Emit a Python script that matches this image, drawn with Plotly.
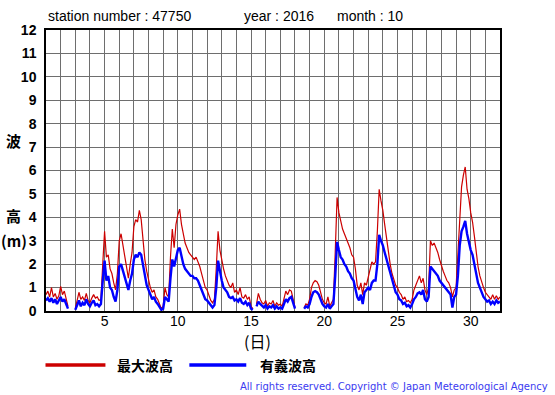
import plotly.graph_objects as go

# 3-hourly samples, starting Oct 1 00:00 (day 1.0)
SAMPLE_HOURS = 3
START_DAY = 1

hmax = [
    # day 1
    0.70, 0.85, 0.60, 1.00, 0.60, 0.75, 0.50, 0.65,
    # day 2
    1.05, 0.70, 0.85, 0.50, 0.20, None, 0.30, None,
    # day 3
    0.10, 0.45, 0.80, 0.50, 0.60, 0.45, 0.75, 0.45,
    # day 4
    0.35, 0.55, 0.70, 0.55, 0.60, 0.45, 0.50, 2.00,
    # day 5
    3.40, 2.30, 2.40, 1.80, 1.60, 1.20, 0.90, 1.60,
    # day 6
    3.00, 3.30, 2.80, 2.20, 1.80, 1.40, 2.00, 2.50,
    # day 7
    3.60, 3.90, 3.80, 4.30, 3.90, 3.00, 2.20, 1.70,
    # day 8
    1.30, 1.00, 0.80, 0.90, 0.60, 0.50, 0.30, 0.10,
    # day 9
    0.20, 1.00, 0.70, 0.60, 2.30, 3.50, 2.70, 3.70,
    # day 10
    4.10, 4.35, 3.70, 3.20, 2.90, 2.70, 2.50, 2.40,
    # day 11
    2.30, 2.20, 2.30, 2.10, 1.90, 1.60, 1.30, 1.00,
    # day 12
    0.90, 0.70, 0.45, 0.35, 0.50, 1.80, 3.40, 2.60,
    # day 13
    2.10, 1.80, 1.50, 1.30, 1.10, 1.00, 1.20, 0.80,
    # day 14
    0.90, 0.70, 1.00, 0.60, 0.55, 0.70, 0.50, 0.60,
    # day 15
    0.20, 0.10, None, 0.30, 0.75, 0.50, 0.35, 0.30,
    # day 16
    0.45, 0.20, 0.35, 0.30, 0.45, 0.20, 0.35, 0.25,
    # day 17
    0.30, 0.20, 0.50, 0.85, 0.70, 0.90, 0.85, 0.50,
    # day 18
    0.15, None, 0.35, None, None, 0.15, 0.30, 0.25,
    # day 19
    0.50, 1.00, 1.20, 1.30, 1.25, 1.10, 0.80, 0.50,
    # day 20
    0.35, 0.30, 0.60, 0.20, 0.35, 0.50, 2.50, 4.85,
    # day 21
    4.20, 3.80, 3.50, 3.30, 3.10, 2.90, 2.70, 2.40,
    # day 22
    2.30, 1.80, 1.10, 0.90, 1.20, 0.70, 1.20, 1.10,
    # day 23
    1.40, 1.80, 2.10, 2.00, 2.10, 3.40, 5.20, 4.70,
    # day 24
    4.30, 3.70, 3.10, 2.60, 2.00, 1.60, 1.30, 1.10,
    # day 25
    1.00, 0.80, 0.70, 0.50, 0.60, 0.40, 0.45, 0.35,
    # day 26
    0.50, 0.90, 1.10, 1.30, 1.50, 1.20, 1.40, 0.90,
    # day 27
    0.70, 1.00, 3.00, 2.80, 2.90, 2.70, 2.50, 2.20,
    # day 28
    1.90, 1.70, 1.50, 1.30, 1.20, 1.00, 0.60, 0.90,
    # day 29
    1.00, 2.50, 4.30, 5.30, 5.80, 6.15, 5.20, 4.80,
    # day 30
    4.20, 3.80, 3.20, 2.50, 1.90, 1.50, 1.20, 1.00,
    # day 31
    0.80, 0.70, 0.60, 0.50, 0.70, 0.50, 0.65, 0.50,
    0.60,
]

hsig = [
    # day 1
    0.45, 0.55, 0.40, 0.55, 0.35, 0.50, 0.30, 0.45,
    # day 2
    0.60, 0.40, 0.50, 0.30, 0.10, None, 0.20, None,
    # day 3
    0.05, 0.30, 0.45, 0.20, 0.35, 0.25, 0.50, 0.30,
    # day 4
    0.20, 0.35, 0.45, 0.25, 0.30, 0.20, 0.30, 1.30,
    # day 5
    2.15, 1.30, 1.50, 1.00, 0.90, 0.60, 0.40, 0.90,
    # day 6
    1.90, 2.00, 1.70, 1.50, 1.10, 0.90, 1.30, 1.60,
    # day 7
    2.20, 2.40, 2.30, 2.50, 2.40, 2.00, 1.50, 1.10,
    # day 8
    0.90, 0.70, 0.50, 0.60, 0.40, 0.30, 0.15, 0.05,
    # day 9
    0.10, 0.60, 0.50, 0.40, 1.40, 2.20, 1.90, 2.30,
    # day 10
    2.60, 2.70, 2.30, 2.00, 1.80, 1.70, 1.60, 1.50,
    # day 11
    1.50, 1.40, 1.40, 1.30, 1.10, 0.90, 0.70, 0.50,
    # day 12
    0.45, 0.35, 0.20, 0.15, 0.25, 1.00, 2.15, 1.70,
    # day 13
    1.30, 1.00, 0.90, 0.80, 0.60, 0.55, 0.60, 0.45,
    # day 14
    0.50, 0.40, 0.55, 0.35, 0.30, 0.40, 0.25, 0.35,
    # day 15
    0.10, 0.05, None, 0.20, 0.40, 0.30, 0.20, 0.15,
    # day 16
    0.25, 0.10, 0.20, 0.15, 0.25, 0.10, 0.20, 0.10,
    # day 17
    0.15, 0.10, 0.30, 0.50, 0.40, 0.55, 0.60, 0.30,
    # day 18
    0.10, None, 0.30, None, None, 0.10, 0.20, 0.15,
    # day 19
    0.30, 0.60, 0.80, 0.85, 0.80, 0.70, 0.50, 0.30,
    # day 20
    0.20, 0.15, 0.30, 0.10, 0.20, 0.30, 1.50, 2.95,
    # day 21
    2.60, 2.30, 2.20, 2.00, 1.90, 1.70, 1.60, 1.40,
    # day 22
    1.30, 1.00, 0.60, 0.45, 0.70, 0.30, 0.80, 0.90,
    # day 23
    1.00, 0.90, 1.20, 1.30, 1.30, 2.00, 3.25, 3.00,
    # day 24
    2.80, 2.50, 2.20, 1.90, 1.60, 1.30, 1.00, 0.80,
    # day 25
    0.70, 0.50, 0.45, 0.30, 0.35, 0.20, 0.25, 0.15,
    # day 26
    0.30, 0.50, 0.60, 0.75, 0.80, 0.70, 0.90, 0.50,
    # day 27
    0.40, 0.60, 1.90, 1.80, 1.75, 1.60, 1.50, 1.30,
    # day 28
    1.20, 1.10, 1.00, 0.90, 0.80, 0.70, 0.15, 0.60,
    # day 29
    0.70, 1.50, 2.80, 3.40, 3.60, 3.85, 3.30, 2.90,
    # day 30
    2.60, 2.40, 2.00, 1.60, 1.20, 1.00, 0.75, 0.60,
    # day 31
    0.50, 0.40, 0.45, 0.30, 0.40, 0.30, 0.45, 0.35,
    0.40,
]

x_tick_vals = list(range(1, 33))
x_tick_text = [str(d) if d % 5 == 0 else "" for d in x_tick_vals]
y_tick_vals = list(range(0, 13))
y_tick_text = [f"<b>{v}</b>" for v in y_tick_vals]

series_names = ["最大波高", "有義波高"]
title_parts = ["station number : 47750", "year : 2016", "month : 10"]
copyright_text = "All rights reserved. Copyright © Japan Meteorological Agency"

days = [START_DAY + i * SAMPLE_HOURS / 24 for i in range(len(hmax))]

fig = go.Figure()
fig.add_trace(go.Scatter(x=days, y=hmax, mode="lines", name=series_names[0],
                         line=dict(color="#cc0000", width=1.2), connectgaps=False))
fig.add_trace(go.Scatter(x=days, y=hsig, mode="lines", name=series_names[1],
                         line=dict(color="#0000ff", width=2.4), connectgaps=False))

L, R, T, B = 45.5, 500, 30, 311
W, H = 555, 395

def px(xp):
    return (xp - L) / (R - L)

def py(yp):
    return (B - yp) / (B - T)

fig.update_layout(
    width=W, height=H,
    margin=dict(l=L, r=W - R, t=T, b=H - B, pad=0),
    paper_bgcolor="white", plot_bgcolor="white",
    showlegend=False,
    font=dict(family="Liberation Sans, Arial, sans-serif", color="black", size=14),
    xaxis=dict(range=[1, 32], tickvals=x_tick_vals, ticktext=x_tick_text,
               showgrid=True, gridcolor="#6e6e6e", gridwidth=1,
               showline=True, linecolor="black", linewidth=1.5, mirror=True,
               ticks="", zeroline=False, ticklabelstandoff=-4,
               tickfont=dict(size=14)),
    yaxis=dict(range=[0, 12], tickvals=y_tick_vals, ticktext=y_tick_text,
               showgrid=True, gridcolor="#6e6e6e", gridwidth=1,
               showline=True, linecolor="black", linewidth=1.5, mirror=True,
               ticks="", zeroline=False, ticklabelstandoff=5,
               tickfont=dict(size=14)),
)

ann = []
title_x = [46, 242, 335]
for t, xpos in zip(title_parts, title_x):
    ann.append(dict(text=t, x=px(xpos), y=py(16), xref="paper", yref="paper",
                    xanchor="left", yanchor="middle", showarrow=False,
                    font=dict(size=14)))
for t, ypos in [("<b>波</b>", 140), ("<b>高</b>", 215), ("<b>(m)</b>", 240)]:
    ann.append(dict(text=t, x=px(13), y=py(ypos), xref="paper", yref="paper",
                    xanchor="center", yanchor="middle", showarrow=False,
                    font=dict(size=15, family="Noto Sans CJK JP, sans-serif")))
ann.append(dict(text="(日)", x=px(257), y=py(341), xref="paper", yref="paper",
                xanchor="center", yanchor="middle", showarrow=False,
                font=dict(size=16, family="Noto Sans CJK JP, sans-serif")))
ann.append(dict(text=f"<b>{series_names[0]}</b>", x=px(115), y=py(365),
                xref="paper", yref="paper", xanchor="left", yanchor="middle",
                showarrow=False, font=dict(size=14, family="Noto Sans CJK JP, sans-serif")))
ann.append(dict(text=f"<b>{series_names[1]}</b>", x=px(258), y=py(365),
                xref="paper", yref="paper", xanchor="left", yanchor="middle",
                showarrow=False, font=dict(size=14, family="Noto Sans CJK JP, sans-serif")))
ann.append(dict(text=copyright_text, x=px(550), y=py(386), xref="paper", yref="paper",
                xanchor="right", yanchor="middle", showarrow=False,
                font=dict(size=10, color="#3a3af0", family="DejaVu Sans, sans-serif")))
fig.update_layout(annotations=ann)

fig.update_layout(shapes=[
    dict(type="line", xref="paper", yref="paper", x0=px(45), x1=px(105),
         y0=py(365), y1=py(365), line=dict(color="#cc0000", width=3.5)),
    dict(type="line", xref="paper", yref="paper", x0=px(189), x1=px(246),
         y0=py(365), y1=py(365), line=dict(color="#0000ff", width=3.5)),
])

fig.write_html("out.html", config={"displayModeBar": False},
               post_script="document.body.style.margin='0px';document.body.style.padding='0px';")
